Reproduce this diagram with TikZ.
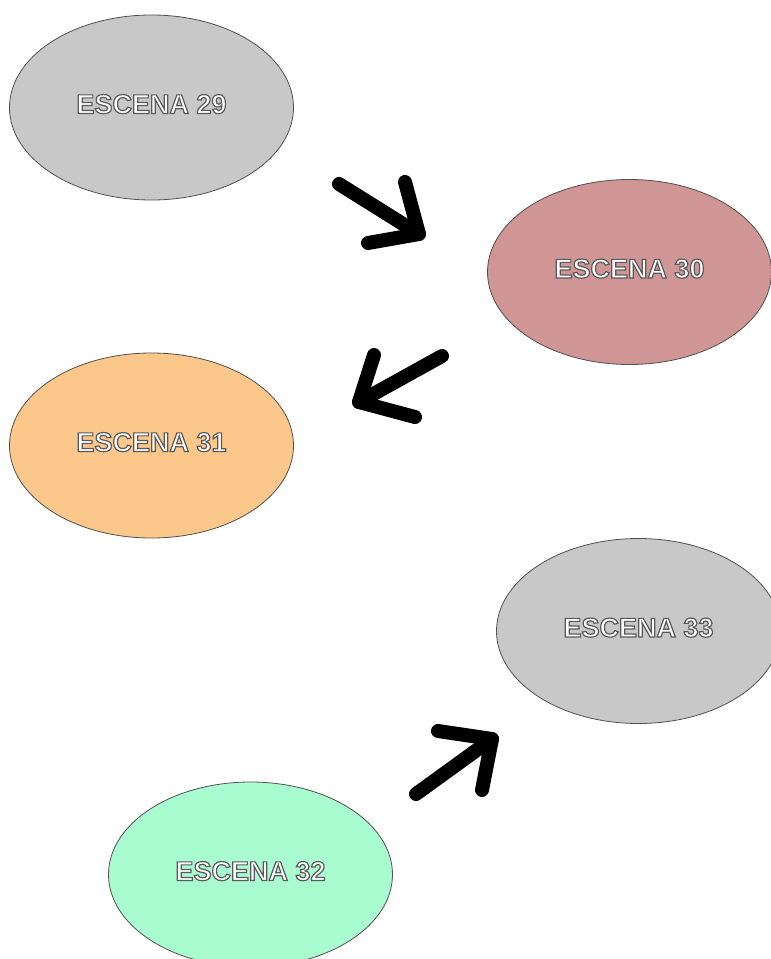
\documentclass[tikz,border=0pt]{standalone}
\usepackage{fontspec}
\setmainfont{Liberation Sans}
\definecolor{gr29}{HTML}{C8C8C8}
\definecolor{rose}{HTML}{D09595}
\definecolor{orng}{HTML}{FBC78A}
\definecolor{mint}{HTML}{A9FCCF}
\definecolor{edge}{HTML}{505050}
\tikzset{
  scene/.style={ellipse, draw=edge, line width=0.8pt, minimum width=284pt, minimum height=185pt, inner sep=0pt,
    font=\fontsize{27}{31}\selectfont\bfseries, text=white},
  bigarrow/.style={line width=14pt, line cap=round, line join=round, black}
}
\newcommand{\lbl}[1]{\raisebox{7pt}{\special{pdf:literal q 2 Tr 1.2 w 1 g 0.35 0.35 0.35 RG}#1\special{pdf:literal Q}}}
\usetikzlibrary{shapes.geometric}
\begin{document}
\begin{tikzpicture}[x=1pt,y=-1pt]
\useasboundingbox (0,0) rectangle (771,959);
\fill[white] (0,0) rectangle (771,959);
\begin{scope}
\clip (0,0) rectangle (771,959);
\node[scene, fill=gr29] (e29) at (151.5,107.5) {\lbl{ESCENA 29}};
\node[scene, fill=rose] (e30) at (629.5,272) {\lbl{ESCENA 30}};
\node[scene, fill=orng] (e31) at (151.5,445.5) {\lbl{ESCENA 31}};
\node[scene, fill=gr29] (e33) at (638.5,631) {\lbl{ESCENA 33}};
\node[scene, fill=mint] (e32) at (250.5,874.5) {\lbl{ESCENA 32}};
\end{scope}
% arrow 1
\coordinate (a1s) at (339,184);
\coordinate (a1t) at (419,234);
\coordinate (a1l) at (405,182);
\coordinate (a1r) at (368,243);
\draw[bigarrow] (a1s) -- (a1t);
\draw[bigarrow] (a1l) -- (a1t) -- (a1r);
% arrow 2
\coordinate (a2s) at (442,356);
\coordinate (a2t) at (359,402);
\coordinate (a2l) at (374,355);
\coordinate (a2r) at (415,417);
\draw[bigarrow] (a2s) -- (a2t);
\draw[bigarrow] (a2l) -- (a2t) -- (a2r);
% arrow 3
\coordinate (a3s) at (416,794);
\coordinate (a3t) at (492,739);
\coordinate (a3l) at (438,731);
\coordinate (a3r) at (482,790);
\draw[bigarrow] (a3s) -- (a3t);
\draw[bigarrow] (a3l) -- (a3t) -- (a3r);
\end{tikzpicture}
\end{document}
